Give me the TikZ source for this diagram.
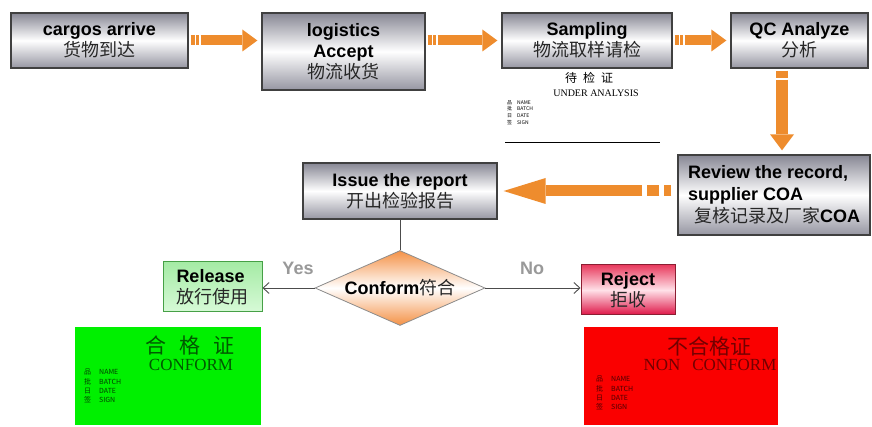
\documentclass[tikz,border=0pt]{standalone}
\usepackage{fontspec}
\setmainfont{Liberation Sans}
\newfontfamily\cjk{Noto Sans CJK SC}
\newfontfamily\serif{Liberation Serif}
\usetikzlibrary{arrows.meta,shapes.geometric}
\definecolor{arrorange}{RGB}{238,140,45}
\definecolor{boxtop}{RGB}{135,135,148}
\definecolor{boxbot}{RGB}{150,150,162}
\definecolor{diaorange}{RGB}{244,145,70}
\definecolor{reltop}{RGB}{165,235,165}
\definecolor{relbot}{RGB}{215,250,215}
\definecolor{relline}{RGB}{70,160,70}
\definecolor{rejtop}{RGB}{232,60,95}
\definecolor{rejmid}{RGB}{255,225,232}
\definecolor{rejbot}{RGB}{222,20,70}
\definecolor{rejline}{RGB}{140,30,50}
\definecolor{cardgreen}{RGB}{0,240,0}
\definecolor{cardred}{RGB}{250,0,0}
\newcommand{\zh}[1]{{\cjk\mdseries\color{black!85}#1}}
\tikzset{
	stepbox/.style={draw=black!75, line width=1.3pt, top color=boxtop, bottom color=boxbot, middle color=white, inner sep=0pt, align=center, font=\fontsize{18}{21}\selectfont\bfseries},
	flow/.style={draw=arrorange, line width=10pt, shorten <=2pt, shorten >=4pt, dash pattern=on 4pt off 1.5pt on 3pt off 1.5pt on 500pt off 1pt, -{Triangle[length=15pt,width=22pt,line width=0pt]}},
	branch/.style={draw=black!70, line width=0.9pt},
	ans/.style={text=black!40, font=\fontsize{18}{21}\selectfont\bfseries},
	cardtitle/.style={font=\cjk\fontsize{21}{21}\selectfont, inner sep=0pt},
	cardsub/.style={font=\serif\fontsize{17}{17}\selectfont, inner sep=0pt},
	cardtext/.style={font=\cjk\fontsize{7}{9.4}\selectfont, align=left, anchor=north west, inner sep=0pt}
}
\begin{document}
\begin{tikzpicture}[x=1pt,y=-1pt]
	\useasboundingbox[fill=white] (0,0) rectangle (872,427);
	\node[stepbox, minimum width=177pt, minimum height=55pt] (1) at (99.5,40.5) {cargos arrive\\\zh{货物到达}};
	\node[stepbox, minimum width=163pt, minimum height=77pt] (2) at (343.5,51.5) {logistics\\Accept\\\zh{物流收货}};
	\node[stepbox, minimum width=170pt, minimum height=55pt] (3) at (587,40.5) {Sampling\\\zh{物流取样请检}};
	\node[stepbox, minimum width=137pt, minimum height=55pt] (4) at (799.5,40.5) {QC Analyze\\\zh{分析}};
	\node[stepbox, minimum width=192pt, minimum height=80pt, align=left, font=\fontsize{18}{22}\selectfont\bfseries] (5) at (774,195) {Review the record,\\supplier COA\\\hspace{6pt}\zh{复核记录及厂家}COA};
	\node[stepbox, minimum width=194pt, minimum height=56pt] (6) at (400,191) {Issue the report\\\zh{开出检验报告}};
	\node[diamond, aspect=2.27, draw=black!45, line width=0.8pt, minimum width=170pt, minimum height=75pt, inner sep=0pt, top color=diaorange, bottom color=diaorange, middle color=white, font=\fontsize{18}{21}\selectfont\bfseries] (7) at (400,288) {Conform\zh{符合}};
	\node[draw=relline, line width=1pt, top color=reltop, bottom color=relbot, minimum width=99pt, minimum height=50pt, inner sep=0pt, align=left, font=\fontsize{18}{21}\selectfont\bfseries] (8) at (212.5,287) {Release\\\zh{放行使用}};
	\node[draw=rejline, line width=1pt, top color=rejtop, bottom color=rejbot, middle color=rejmid, minimum width=94pt, minimum height=50pt, inner sep=0pt, align=center, font=\fontsize{18}{21}\selectfont\bfseries] (9) at (628,290) {Reject\\\zh{拒收}};
	\draw[flow] (1.east) -- (1.east -| 2.west);
	\draw[flow] (2.east |- 3.west) -- (3.west);
	\draw[flow] (3.east) -- (4.west);
	\draw[flow, line width=12pt, dash pattern=on 7pt off 2pt on 500pt off 1pt, -{Triangle[length=16pt,width=24pt,line width=0pt]}] ([xshift=-17.5pt]4.south) -- ([xshift=-17.5pt]4.south |- 5.north);
	\draw[flow, line width=11pt, shorten <=6pt, shorten >=6pt, dash pattern=on 7pt off 5pt on 12pt off 5pt on 500pt off 1pt, -{Triangle[length=42pt,width=26pt,line width=0pt]}] (5.west |- 6.east) -- (6.east);
	\draw[branch] (6.south) -- (7.north);
	\draw[branch, -{Straight Barb[length=6pt,width=11pt]}] (7.west) -- (7.west -| 8.east);
	\draw[branch, -{Straight Barb[length=6pt,width=11pt]}] (7.east) -- (7.east -| 9.west);
	\node[ans] (yes) at (298,268) {Yes};
	\node[ans] (no) at (532,268) {No};
	\node[font=\cjk\fontsize{12}{12}\selectfont] (3a) at (589,78) {待\hspace{6pt}检\hspace{6pt}证};
	\node[font=\serif\fontsize{10}{10}\selectfont] (3b) at (596,93) {UNDER ANALYSIS};
	\node[cardtext, font=\cjk\fontsize{5}{6.7}\selectfont] (3c) at (507,100) {品\hspace{5pt}NAME\\批\hspace{5pt}BATCH\\日\hspace{5pt}DATE\\签\hspace{5pt}SIGN};
	\draw[line width=0.8pt] (505,142) -- (660,142);
	\node[fill=cardgreen, minimum width=186pt, minimum height=98pt, inner sep=0pt] (10) at (168,376) {};
	\node[cardtitle, text=green!35!black] (10a) at (190,345) {合\hspace{13pt}格\hspace{13pt}证};
	\node[cardsub, text=green!35!black] (10b) at (191,365) {CONFORM};
	\node[cardtext, text=green!25!black] (10c) at (84,369) {品\hspace{8pt}NAME\\批\hspace{8pt}BATCH\\日\hspace{8pt}DATE\\签\hspace{8pt}SIGN};
	\node[fill=cardred, minimum width=194pt, minimum height=98pt, inner sep=0pt] (11) at (681,376) {};
	\node[cardtitle, text=red!45!black] (11a) at (709,346) {不合格证};
	\node[cardsub, text=red!45!black] (11b) at (710,365) {NON\hspace{12pt}CONFORM};
	\node[cardtext, text=red!30!black] (11c) at (596,376) {品\hspace{8pt}NAME\\批\hspace{8pt}BATCH\\日\hspace{8pt}DATE\\签\hspace{8pt}SIGN};
\end{tikzpicture}
\end{document}
